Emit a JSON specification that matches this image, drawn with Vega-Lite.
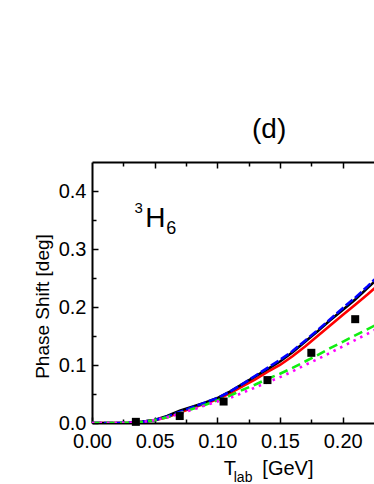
{
  "$schema": "https://vega.github.io/schema/vega-lite/v6.json",
  "width": 282,
  "height": 261,
  "autosize": "none",
  "padding": {"left": 92, "top": 162, "right": 0, "bottom": 61},
  "config": {
    "view": {"stroke": null},
    "font": "Liberation Sans",
    "axis": {
      "grid": false, "domainColor": "black", "domainWidth": 2, "tickColor": "black", "tickWidth": 1.5,
      "labelColor": "black", "labelFont": "Liberation Sans", "labelFontSize": 20,
      "titleFont": "Liberation Sans", "titleFontSize": 19, "titleFontWeight": "normal", "titleColor": "black",
      "labelOverlap": false, "labelFlush": false
    }
  },
  "title": {"text": "(d)", "anchor": "start", "frame": "group", "dx": 160, "offset": -5, "fontSize": 28, "fontWeight": "normal", "font": "Liberation Sans", "color": "black", "baseline": "alphabetic"},
  "datasets": {
    "curves": [
      {"model": "B", "T": 0.0, "phase": 0.0}, {"model": "B", "T": 0.02, "phase": 0.0}, {"model": "B", "T": 0.03, "phase": 0.0005}, {"model": "B", "T": 0.04, "phase": 0.002}, {"model": "B", "T": 0.05, "phase": 0.005}, {"model": "B", "T": 0.06, "phase": 0.010}, {"model": "B", "T": 0.07, "phase": 0.018}, {"model": "B", "T": 0.08, "phase": 0.026}, {"model": "B", "T": 0.09, "phase": 0.033}, {"model": "B", "T": 0.10, "phase": 0.041}, {"model": "B", "T": 0.11, "phase": 0.051}, {"model": "B", "T": 0.12, "phase": 0.063}, {"model": "B", "T": 0.13, "phase": 0.075}, {"model": "B", "T": 0.14, "phase": 0.088}, {"model": "B", "T": 0.15, "phase": 0.100}, {"model": "B", "T": 0.16, "phase": 0.115}, {"model": "B", "T": 0.17, "phase": 0.132}, {"model": "B", "T": 0.18, "phase": 0.150}, {"model": "B", "T": 0.19, "phase": 0.168}, {"model": "B", "T": 0.20, "phase": 0.186}, {"model": "B", "T": 0.21, "phase": 0.204}, {"model": "B", "T": 0.22, "phase": 0.222}, {"model": "B", "T": 0.23, "phase": 0.241},
      {"model": "A", "T": 0.0, "phase": 0.0}, {"model": "A", "T": 0.02, "phase": 0.0}, {"model": "A", "T": 0.03, "phase": 0.0005}, {"model": "A", "T": 0.04, "phase": 0.002}, {"model": "A", "T": 0.05, "phase": 0.005}, {"model": "A", "T": 0.06, "phase": 0.012}, {"model": "A", "T": 0.07, "phase": 0.021}, {"model": "A", "T": 0.08, "phase": 0.028}, {"model": "A", "T": 0.09, "phase": 0.035}, {"model": "A", "T": 0.10, "phase": 0.043}, {"model": "A", "T": 0.11, "phase": 0.054}, {"model": "A", "T": 0.12, "phase": 0.067}, {"model": "A", "T": 0.13, "phase": 0.080}, {"model": "A", "T": 0.14, "phase": 0.093}, {"model": "A", "T": 0.15, "phase": 0.106}, {"model": "A", "T": 0.16, "phase": 0.122}, {"model": "A", "T": 0.17, "phase": 0.140}, {"model": "A", "T": 0.18, "phase": 0.158}, {"model": "A", "T": 0.19, "phase": 0.177}, {"model": "A", "T": 0.20, "phase": 0.195}, {"model": "A", "T": 0.21, "phase": 0.213}, {"model": "A", "T": 0.22, "phase": 0.233}, {"model": "A", "T": 0.23, "phase": 0.253},
      {"model": "C", "T": 0.0, "phase": 0.0}, {"model": "C", "T": 0.02, "phase": 0.0}, {"model": "C", "T": 0.03, "phase": 0.0005}, {"model": "C", "T": 0.04, "phase": 0.002}, {"model": "C", "T": 0.05, "phase": 0.005}, {"model": "C", "T": 0.06, "phase": 0.011}, {"model": "C", "T": 0.07, "phase": 0.019}, {"model": "C", "T": 0.08, "phase": 0.027}, {"model": "C", "T": 0.09, "phase": 0.035}, {"model": "C", "T": 0.10, "phase": 0.043}, {"model": "C", "T": 0.11, "phase": 0.054}, {"model": "C", "T": 0.12, "phase": 0.067}, {"model": "C", "T": 0.13, "phase": 0.081}, {"model": "C", "T": 0.14, "phase": 0.095}, {"model": "C", "T": 0.15, "phase": 0.109}, {"model": "C", "T": 0.16, "phase": 0.124}, {"model": "C", "T": 0.17, "phase": 0.142}, {"model": "C", "T": 0.18, "phase": 0.160}, {"model": "C", "T": 0.19, "phase": 0.179}, {"model": "C", "T": 0.20, "phase": 0.198}, {"model": "C", "T": 0.21, "phase": 0.216}, {"model": "C", "T": 0.22, "phase": 0.236}, {"model": "C", "T": 0.23, "phase": 0.257},
      {"model": "D", "T": 0.0, "phase": 0.0}, {"model": "D", "T": 0.02, "phase": 0.0}, {"model": "D", "T": 0.03, "phase": 0.0005}, {"model": "D", "T": 0.04, "phase": 0.002}, {"model": "D", "T": 0.05, "phase": 0.005}, {"model": "D", "T": 0.06, "phase": 0.010}, {"model": "D", "T": 0.07, "phase": 0.017}, {"model": "D", "T": 0.08, "phase": 0.024}, {"model": "D", "T": 0.09, "phase": 0.031}, {"model": "D", "T": 0.10, "phase": 0.039}, {"model": "D", "T": 0.11, "phase": 0.047}, {"model": "D", "T": 0.12, "phase": 0.057}, {"model": "D", "T": 0.13, "phase": 0.066}, {"model": "D", "T": 0.14, "phase": 0.076}, {"model": "D", "T": 0.15, "phase": 0.085}, {"model": "D", "T": 0.16, "phase": 0.095}, {"model": "D", "T": 0.17, "phase": 0.106}, {"model": "D", "T": 0.18, "phase": 0.117}, {"model": "D", "T": 0.19, "phase": 0.129}, {"model": "D", "T": 0.20, "phase": 0.140}, {"model": "D", "T": 0.21, "phase": 0.151}, {"model": "D", "T": 0.22, "phase": 0.162}, {"model": "D", "T": 0.23, "phase": 0.173},
      {"model": "E", "T": 0.0, "phase": 0.0}, {"model": "E", "T": 0.02, "phase": 0.0}, {"model": "E", "T": 0.03, "phase": 0.0005}, {"model": "E", "T": 0.04, "phase": 0.002}, {"model": "E", "T": 0.05, "phase": 0.005}, {"model": "E", "T": 0.06, "phase": 0.010}, {"model": "E", "T": 0.07, "phase": 0.016}, {"model": "E", "T": 0.08, "phase": 0.023}, {"model": "E", "T": 0.09, "phase": 0.030}, {"model": "E", "T": 0.10, "phase": 0.037}, {"model": "E", "T": 0.11, "phase": 0.043}, {"model": "E", "T": 0.12, "phase": 0.052}, {"model": "E", "T": 0.13, "phase": 0.061}, {"model": "E", "T": 0.14, "phase": 0.070}, {"model": "E", "T": 0.15, "phase": 0.079}, {"model": "E", "T": 0.16, "phase": 0.089}, {"model": "E", "T": 0.17, "phase": 0.100}, {"model": "E", "T": 0.18, "phase": 0.110}, {"model": "E", "T": 0.19, "phase": 0.121}, {"model": "E", "T": 0.20, "phase": 0.132}, {"model": "E", "T": 0.21, "phase": 0.143}, {"model": "E", "T": 0.22, "phase": 0.154}, {"model": "E", "T": 0.23, "phase": 0.165}
    ],
    "exp": [
      {"T": 0.035, "phase": 0.002}, {"T": 0.07, "phase": 0.012}, {"T": 0.105, "phase": 0.037},
      {"T": 0.14, "phase": 0.074}, {"T": 0.175, "phase": 0.121}, {"T": 0.21, "phase": 0.179}
    ],
    "one": [{}]
  },
  "layer": [
    {
      "data": {"name": "curves"},
      "transform": [{"filter": "datum.model === 'B'"}],
      "mark": {"type": "line", "color": "#ff0000", "strokeWidth": 2.6, "clip": true},
      "encoding": {
        "x": {"field": "T", "type": "quantitative", "scale": {"domain": [0, 0.225], "nice": false, "zero": false},
              "axis": {"orient": "bottom", "values": [0, 0.05, 0.1, 0.15, 0.2], "format": ".2f", "tickSize": -6, "labelPadding": 14, "title": null}},
        "y": {"field": "phase", "type": "quantitative", "scale": {"domain": [0, 0.45], "nice": false, "zero": false},
              "axis": {"orient": "left", "values": [0, 0.1, 0.2, 0.3, 0.4], "format": ".1f", "tickSize": -6, "labelPadding": 12, "title": "Phase Shift [deg]", "titlePadding": 6, "titleY": 144}}
      }
    },
    {
      "data": {"name": "curves"},
      "transform": [{"filter": "datum.model === 'A'"}],
      "mark": {"type": "line", "color": "#000000", "strokeWidth": 2.6, "clip": true},
      "encoding": {
        "x": {"field": "T", "type": "quantitative",
              "axis": {"orient": "bottom", "values": [0.025, 0.075, 0.125, 0.175], "tickSize": -4, "labels": false, "domain": false, "title": null}},
        "y": {"field": "phase", "type": "quantitative",
              "axis": {"orient": "left", "values": [0.05, 0.15, 0.25, 0.35], "tickSize": -4, "labels": false, "domain": false, "title": null}}
      }
    },
    {
      "data": {"name": "curves"},
      "transform": [{"filter": "datum.model === 'C'"}],
      "mark": {"type": "line", "color": "#0000ff", "strokeWidth": 2.6, "strokeDash": [9, 3], "clip": true},
      "encoding": {
        "x": {"field": "T", "type": "quantitative",
              "axis": {"orient": "top", "values": [0.05, 0.1, 0.15, 0.2], "tickSize": -6, "labels": false, "domain": true, "title": null}},
        "y": {"field": "phase", "type": "quantitative", "axis": null}
      }
    },
    {
      "data": {"name": "curves"},
      "transform": [{"filter": "datum.model === 'D'"}],
      "mark": {"type": "line", "color": "#11ee11", "strokeWidth": 2.6, "strokeDash": [9, 5], "clip": true},
      "encoding": {
        "x": {"field": "T", "type": "quantitative",
              "axis": {"orient": "top", "values": [0.025, 0.075, 0.125, 0.175], "tickSize": -4, "labels": false, "domain": false, "title": null}},
        "y": {"field": "phase", "type": "quantitative", "axis": null}
      }
    },
    {
      "data": {"name": "curves"},
      "transform": [{"filter": "datum.model === 'E'"}],
      "mark": {"type": "line", "color": "#ff00ff", "strokeWidth": 2.6, "strokeDash": [2.5, 5], "clip": true},
      "encoding": {
        "x": {"field": "T", "type": "quantitative", "axis": null},
        "y": {"field": "phase", "type": "quantitative", "axis": null}
      }
    },
    {
      "data": {"name": "exp"},
      "mark": {"type": "point", "shape": "square", "filled": true, "color": "#000000", "size": 64, "opacity": 1},
      "encoding": {
        "x": {"field": "T", "type": "quantitative", "axis": null},
        "y": {"field": "phase", "type": "quantitative", "axis": null}
      }
    },
    {
      "data": {"name": "one"},
      "mark": {"type": "text", "fontSize": 15, "align": "left", "baseline": "alphabetic", "color": "black"},
      "encoding": {"x": {"datum": 0.034, "type": "quantitative", "axis": null}, "y": {"datum": 0.362, "type": "quantitative", "axis": null}, "text": {"value": "3"}}
    },
    {
      "data": {"name": "one"},
      "mark": {"type": "text", "fontSize": 28, "align": "left", "baseline": "alphabetic", "color": "black"},
      "encoding": {"x": {"datum": 0.0425, "type": "quantitative", "axis": null}, "y": {"datum": 0.3385, "type": "quantitative", "axis": null}, "text": {"value": "H"}}
    },
    {
      "data": {"name": "one"},
      "mark": {"type": "text", "fontSize": 18, "align": "left", "baseline": "alphabetic", "color": "black"},
      "encoding": {"x": {"datum": 0.0592, "type": "quantitative", "axis": null}, "y": {"datum": 0.3252, "type": "quantitative", "axis": null}, "text": {"value": "6"}}
    },
    {
      "data": {"name": "one"},
      "mark": {"type": "text", "fontSize": 20, "align": "left", "baseline": "alphabetic", "color": "black"},
      "encoding": {"x": {"datum": 0.1051, "type": "quantitative", "axis": null}, "y": {"datum": -0.0893, "type": "quantitative", "axis": null}, "text": {"value": "T"}}
    },
    {
      "data": {"name": "one"},
      "mark": {"type": "text", "fontSize": 14, "align": "left", "baseline": "alphabetic", "color": "black"},
      "encoding": {"x": {"datum": 0.1131, "type": "quantitative", "axis": null}, "y": {"datum": -0.1009, "type": "quantitative", "axis": null}, "text": {"value": "lab"}}
    },
    {
      "data": {"name": "one"},
      "mark": {"type": "text", "fontSize": 20, "align": "left", "baseline": "alphabetic", "color": "black"},
      "encoding": {"x": {"datum": 0.1359, "type": "quantitative", "axis": null}, "y": {"datum": -0.0893, "type": "quantitative", "axis": null}, "text": {"value": "[GeV]"}}
    }
  ],
  "resolve": {"axis": {"x": "independent", "y": "independent"}}
}
